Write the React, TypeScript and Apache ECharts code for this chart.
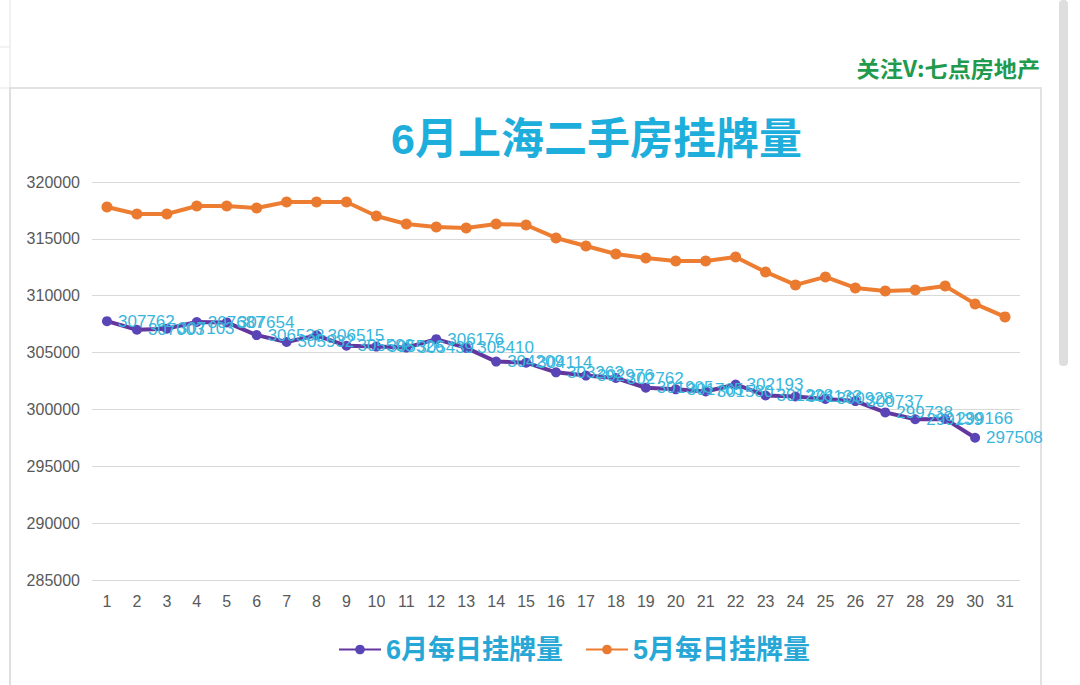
import React, { useEffect, useRef } from "react";
import * as echarts from "echarts";

const days = ["1","2","3","4","5","6","7","8","9","10","11","12","13","14","15","16","17","18","19","20","21","22","23","24","25","26","27","28","29","30","31"];

const juneListings = [307762, 307003, 307103, 307687, 307654, 306538, 305932, 306515, 305598, 305526, 305439, 306176, 305410, 304209, 304114, 303262, 302976, 302762, 301905, 301765, 301580, 302193, 301228, 301133, 300928, 300737, 299738, 299139, 299166, 297508];

const mayListings = [317803, 317188, 317188, 317891, 317891, 317715, 318243, 318243, 318243, 317012, 316310, 316046, 315958, 316310, 316222, 315080, 314376, 313673, 313322, 313058, 313058, 313410, 312092, 310949, 311652, 310686, 310422, 310510, 310862, 309280, 308138];

const yMin = 285000;
const yMax = 320000;
const yStep = 5000;

const titleText = "6月上海二手房挂牌量";
const watermark = "关注V:七点房地产";
const juneName = "6月每日挂牌量";
const mayName = "5月每日挂牌量";

const FONT = "'Liberation Sans', Arial, 'Noto Sans CJK SC', sans-serif";

export default function App() {
  const ref = useRef<HTMLDivElement>(null);
  useEffect(() => {
    document.body.style.margin = "0";
    const chart = echarts.init(ref.current as HTMLDivElement, null, { renderer: "svg" });
    chart.setOption({
      animation: false,
      backgroundColor: "#ffffff",
      textStyle: { fontFamily: FONT },
      title: {
        text: titleText,
        left: 386,
        top: 112,
        textStyle: { fontSize: 43, color: "#1eaedb", fontWeight: "bold", fontFamily: FONT },
      },
      graphic: [
        { type: "line", shape: { x1: 10, y1: 0, x2: 10, y2: 685 }, style: { stroke: "#e2e2e2", lineWidth: 1 } },
        { type: "line", shape: { x1: 0, y1: 47, x2: 10, y2: 47 }, style: { stroke: "#e6e6e6", lineWidth: 1 } },
        { type: "line", shape: { x1: 0, y1: 88, x2: 10, y2: 88 }, style: { stroke: "#e6e6e6", lineWidth: 1 } },
        { type: "rect", shape: { x: 10, y: 88, width: 1031, height: 620 }, style: { fill: "none", stroke: "#d9d9d9", lineWidth: 1.5 } },
        { type: "rect", shape: { x: 1059, y: 0, width: 9, height: 366, r: 4 }, style: { fill: "#dedede" } },
        {
          type: "text",
          x: 1040,
          y: 67,
          scaleX: 1.05,
          style: {
            text: watermark,
            align: "right",
            verticalAlign: "middle",
            fontSize: 22,
            fontWeight: "bold",
            fill: "#1f9a4e",
            fontFamily: "'Noto Sans CJK SC', sans-serif",
          },
        },
      ],
      legend: {
        data: [juneName, mayName],
        left: 333,
        top: 631,
        itemWidth: 42,
        itemHeight: 12,
        itemGap: 22,
        textStyle: { fontSize: 27, color: "#27a7d6", fontWeight: "bold", fontFamily: FONT },
      },
      grid: { left: 92, right: 60, top: 182, bottom: 105 },
      xAxis: {
        type: "category",
        data: days,
        boundaryGap: true,
        axisLine: { show: false },
        axisTick: { show: false },
        axisLabel: { color: "#595959", fontSize: 16, margin: 13, fontFamily: FONT },
      },
      yAxis: {
        type: "value",
        min: yMin,
        max: yMax,
        interval: yStep,
        axisLine: { show: false },
        axisTick: { show: false },
        splitLine: { lineStyle: { color: "#d9d9d9", width: 1.2 } },
        axisLabel: {
          color: "#595959",
          fontSize: 16,
          margin: 12,
          fontFamily: FONT,
          formatter: (v: number) => String(v),
        },
      },
      series: [
        {
          name: juneName,
          type: "line",
          data: juneListings,
          z: 3,
          symbol: "circle",
          symbolSize: 10,
          lineStyle: { color: "#64379f", width: 4 },
          itemStyle: { color: "#5a45b6" },
          label: {
            show: true,
            position: "right",
            distance: 6,
            color: "#38b6dc",
            fontSize: 17,
            fontFamily: FONT,
          },
        },
        {
          name: mayName,
          type: "line",
          data: mayListings,
          z: 2,
          symbol: "circle",
          symbolSize: 11,
          lineStyle: { color: "#ed7d31", width: 4 },
          itemStyle: { color: "#ea7a2f" },
        },
      ],
    });
    return () => chart.dispose();
  }, []);
  return (
    <div
      ref={ref}
      style={{ position: "absolute", left: 0, top: 0, width: 1080, height: 685, background: "#fff" }}
    />
  );
}
